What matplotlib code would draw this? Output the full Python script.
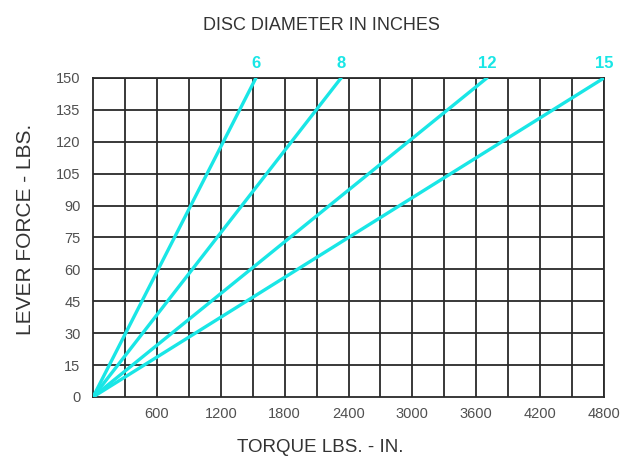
import matplotlib

matplotlib.use("Agg")
import matplotlib.pyplot as plt
import numpy as np

# disc diameters (inches) and the torque at which each reaches 150 lbs lever force
diameters = ["6", "8", "12", "15"]
torque_at_150 = [1530, 2330, 3700, 4800]
force_max = 150

x_ticks = [600, 1200, 1800, 2400, 3000, 3600, 4200, 4800]
y_ticks = [0, 15, 30, 45, 60, 75, 90, 105, 120, 135, 150]

plt.rcParams["font.family"] = ["Liberation Sans", "DejaVu Sans"]

fig = plt.figure(figsize=(6.21, 4.58), dpi=100)
ax = fig.add_axes([0.1498, 0.1332, 0.8228, 0.6965])

# grid every 300 in torque, every 15 in force
for gx in np.arange(300, 4801, 300):
    ax.axvline(gx, color="#2a2a2a", lw=1.3, zorder=1)
for gy in y_ticks[1:]:
    ax.axhline(gy, color="#2a2a2a", lw=1.3, zorder=1)

cyan = "#19e6e6"
for name, t in zip(diameters, torque_at_150):
    ax.plot([0, t], [0, force_max], color=cyan, lw=2.4, zorder=3,
            solid_capstyle="round")
    ax.text(t, force_max + 3.2, name, color=cyan, fontsize=12, fontweight="bold",
            ha="center", va="bottom", clip_on=False)

ax.set_xlim(0, 4800)
ax.set_ylim(0, 150)
ax.set_xticks(x_ticks)
ax.set_yticks(y_ticks)
ax.tick_params(length=0, labelsize=10.5, labelcolor="#505050")
ax.tick_params(axis="x", pad=7)
ax.tick_params(axis="y", pad=9)
for s in ax.spines.values():
    s.set_color("#2a2a2a")
    s.set_linewidth(1.3)

fig.text(0.518, 0.945, "DISC DIAMETER IN INCHES", ha="center", va="center",
         fontsize=13, color="#333333")
fig.text(0.515, 0.022, "TORQUE LBS. - IN.", ha="center", va="center",
         fontsize=13.5, color="#333333")
fig.text(0.041, 0.5, "LEVER FORCE - LBS.", ha="center", va="center",
         rotation=90, fontsize=15, color="#333333")

fig.savefig("out.png", dpi=100)
